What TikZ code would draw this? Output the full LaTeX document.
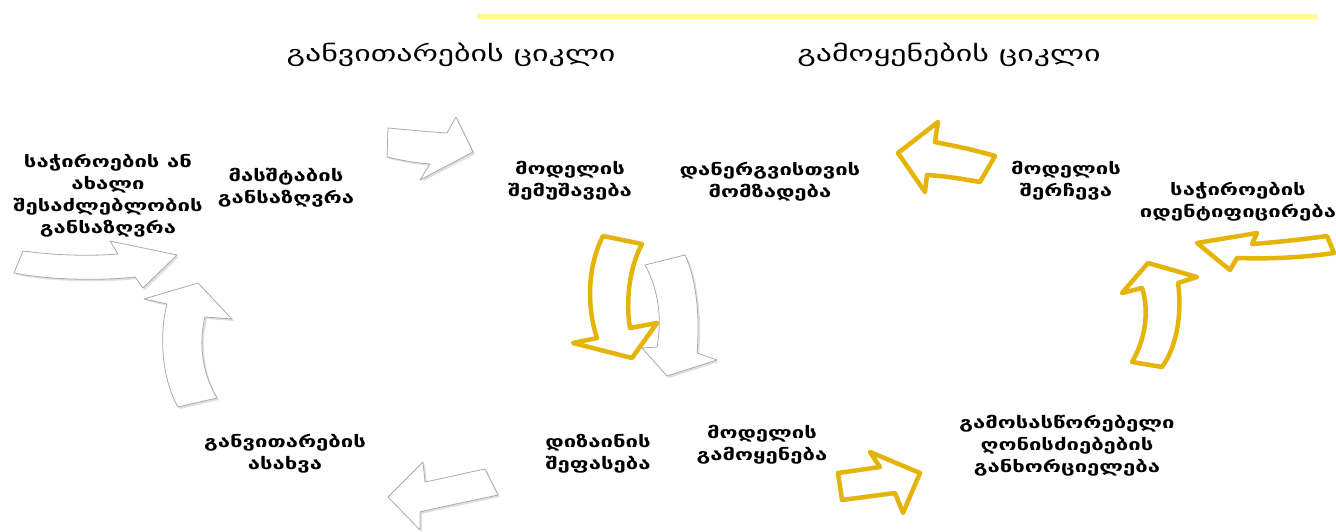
\documentclass[tikz,border=0pt]{standalone}
\usepackage{fontspec}
\newfontfamily\geo[FakeStretch=1.45]{DejaVu Sans}
\newfontfamily\geob[FakeStretch=1.38]{DejaVu Sans Bold}
\definecolor{gold}{RGB}{228,180,8}
\definecolor{lineyel}{RGB}{255,250,140}
\definecolor{arrgray}{RGB}{170,170,170}
\begin{document}
\begin{tikzpicture}[x=1pt,y=-1pt,
  whitearrow/.style={fill=white,draw=arrgray,line width=0.8pt,line join=round},
  shadowarrow/.style={fill=black,opacity=0.12,draw=none,shift={(2,2)}},
  goldarrow/.style={fill=white,draw=gold,line width=4.5pt,line join=round},
  title/.style={font=\geo\fontsize{22}{26}\selectfont,anchor=center},
  lbl/.style={font=\geob\fontsize{16}{22}\selectfont,align=center,anchor=center,inner sep=0pt}]
\useasboundingbox (0,0) rectangle (1336,532);
\fill[white] (0,0) rectangle (1336,532);
% yellow line
\fill[lineyel] (477,14) rectangle (1318,19);
% titles
\node[title] (t1) at (451,55) {განვითარების ციკლი};
\node[title] (t2) at (949,55) {გამოყენების ციკლი};
% white arrows: shadows
\fill[shadowarrow] (23,251) .. controls (60,256) and (95,256) .. (118,254) -- (110,241) -- (177,255) -- (143,288) -- (135,277) .. controls (100,281) and (50,280) .. (14,273) -- cycle;
\fill[shadowarrow] (198,283) -- (232,319) -- (205,317) .. controls (198,345) and (203,375) .. (217,398) -- (178,407) .. controls (160,375) and (160,330) .. (167,304) -- (144,299) -- cycle;
\fill[shadowarrow] (388,128) .. controls (410,130) and (430,132) .. (447,133) -- (456,117) -- (473,152) -- (420,180) -- (430,164) .. controls (415,163) and (400,160) .. (387,157) -- cycle;
\fill[shadowarrow] (388,497) -- (423,462) -- (425,482) .. controls (445,478) and (465,473) .. (485,469) -- (498,495) .. controls (475,500) and (445,506) .. (420,512) -- (420,530) -- cycle;
\fill[shadowarrow] (645,265) -- (685,255) .. controls (697,280) and (700,320) .. (697,353) -- (717,360) -- (667,376) -- (642,348) -- (657,347) .. controls (662,320) and (659,290) .. (645,265) -- cycle;
% white arrows
\draw[whitearrow] (23,251) .. controls (60,256) and (95,256) .. (118,254) -- (110,241) -- (177,255) -- (143,288) -- (135,277) .. controls (100,281) and (50,280) .. (14,273) -- cycle;
\draw[whitearrow] (198,283) -- (232,319) -- (205,317) .. controls (198,345) and (203,375) .. (217,398) -- (178,407) .. controls (160,375) and (160,330) .. (167,304) -- (144,299) -- cycle;
\draw[whitearrow] (388,128) .. controls (410,130) and (430,132) .. (447,133) -- (456,117) -- (473,152) -- (420,180) -- (430,164) .. controls (415,163) and (400,160) .. (387,157) -- cycle;
\draw[whitearrow] (388,497) -- (423,462) -- (425,482) .. controls (445,478) and (465,473) .. (485,469) -- (498,495) .. controls (475,500) and (445,506) .. (420,512) -- (420,530) -- cycle;
\draw[whitearrow] (645,265) -- (685,255) .. controls (697,280) and (700,320) .. (697,353) -- (717,360) -- (667,376) -- (642,348) -- (657,347) .. controls (662,320) and (659,290) .. (645,265) -- cycle;
% gold arrows
\draw[goldarrow] (603,236) -- (642,244) .. controls (628,270) and (626,305) .. (630,328) -- (657,323) -- (632,358) -- (573,343) -- (597,338) .. controls (586,305) and (588,265) .. (603,236) -- cycle;
\draw[goldarrow] (898,153) -- (938,122) -- (935,142) .. controls (955,146) and (975,150) .. (995,156) -- (980,182) .. controls (963,179) and (945,176) .. (927,175) -- (925,192) -- cycle;
\draw[goldarrow] (1197,243) -- (1257,233) -- (1252,244) .. controls (1280,242) and (1305,239) .. (1327,236) -- (1334,253) .. controls (1300,258) and (1265,259) .. (1237,258) -- (1230,270) -- cycle;
\draw[goldarrow] (1148,263) -- (1197,277) -- (1178,283) .. controls (1182,310) and (1178,345) .. (1162,367) -- (1132,362) .. controls (1148,335) and (1148,305) .. (1142,288) -- (1122,293) -- cycle;
\draw[goldarrow] (838,473) -- (880,467) -- (870,452) -- (920,473) -- (903,513) -- (895,493) -- (842,500) -- cycle;
% labels
\node[lbl] (n1) at (108,196) {საჭიროების ან\\ახალი\\შესაძლებლობის\\განსაზღვრა};
\node[lbl] (n2) at (286,188) {მასშტაბის\\განსაზღვრა};
\node[lbl] (n3) at (570,181) {მოდელის\\შემუშავება};
\node[lbl] (n4) at (770,182) {დანერგვისთვის\\მომზადება};
\node[lbl] (n5) at (1066,181) {მოდელის\\შერჩევა};
\node[lbl] (n6) at (1238,202) {საჭიროების\\იდენტიფიცირება};
\node[lbl] (n7) at (1067,446) {გამოსასწორებელი\\ღონისძიებების\\განხორციელება};
\node[lbl] (n8) at (762,445) {მოდელის\\გამოყენება};
\node[lbl] (n9) at (598,454) {დიზაინის\\შეფასება};
\node[lbl] (n10) at (285,454) {განვითარების\\ასახვა};
\end{tikzpicture}
\end{document}
